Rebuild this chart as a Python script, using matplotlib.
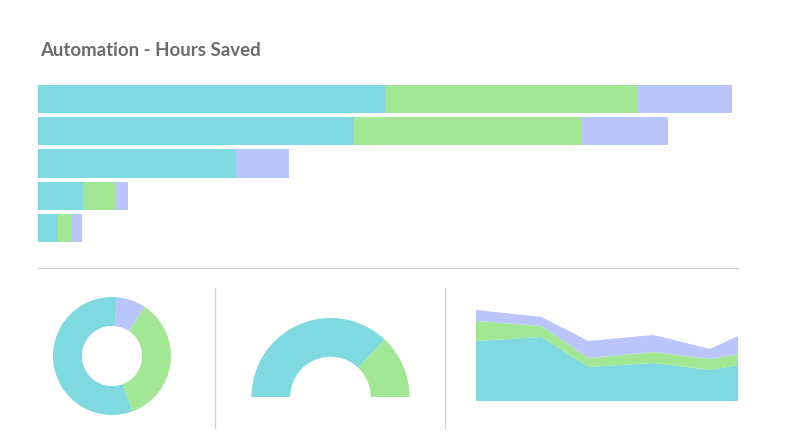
import matplotlib
matplotlib.use('Agg')
import matplotlib.pyplot as plt
from matplotlib.lines import Line2D

W, H = 790, 444

C_CYAN = '#7ed9e0'
C_GREEN = '#a2e794'
C_PURPLE = '#bac5fc'
C_LINE = '#d4d4d4'

# 横向堆叠条形
bar_cyan = [347, 316, 198, 45, 20]
bar_green = [252, 228, 0, 33, 14]
bar_purple = [95, 86, 53, 12, 10]

# 环形图
donut_vals = [8, 35, 57]          # purple, green, cyan
# 半环
gauge_vals = [74, 26]             # cyan, green

# 面积图
area_x = [0, 7, 12, 19, 25, 28]
area_cyan = [60, 64, 34, 38, 31, 36]
area_green = [20, 11, 9, 11, 11, 11]
area_purple = [11, 9, 17, 17, 10, 18]


def px_axes(fig, left, top, width, height):
    """按像素 (左上角坐标) 创建 axes"""
    return fig.add_axes([left / W, (H - top - height) / H, width / W, height / H])


fig = plt.figure(figsize=(W / 100, H / 100), dpi=100)
fig.patch.set_facecolor('white')

fig.text(40 / W, 1 - 51 / H, 'Automation - Hours Saved', fontsize=13.4,
         fontweight='bold', color='#6b6b6b', family=['Lato', 'DejaVu Sans'],
         va='center', ha='left')

# ── 条形图 ──
ax = px_axes(fig, 38, 83, 700, 161)
ys = range(len(bar_cyan))
left2 = [a + b for a, b in zip(bar_cyan, bar_green)]
ax.barh(ys, bar_cyan, height=0.87, color=C_CYAN)
ax.barh(ys, bar_green, left=bar_cyan, height=0.87, color=C_GREEN)
ax.barh(ys, bar_purple, left=left2, height=0.87, color=C_PURPLE)
ax.set_xlim(0, 700)
ax.set_ylim(4.5, -0.5)
ax.axis('off')

# 分隔线
fig.add_artist(Line2D([38 / W, 738 / W], [1 - 268 / H, 1 - 268 / H],
                      color=C_LINE, linewidth=1))
for xv in (215, 445):
    fig.add_artist(Line2D([xv / W, xv / W], [1 - 288 / H, 1 - 428 / H],
                          color=C_LINE, linewidth=1))

# ── 环形图 ──
ax2 = px_axes(fig, 53, 297, 118, 118)
ax2.pie(donut_vals, colors=[C_PURPLE, C_GREEN, C_CYAN], startangle=85,
        counterclock=False, radius=1, wedgeprops=dict(width=0.49, linewidth=0))
ax2.set_xlim(-1, 1)
ax2.set_ylim(-1, 1)
ax2.set_aspect('equal')
ax2.axis('off')

# ── 半环 ──
ax3 = px_axes(fig, 251.5, 318, 158, 79)
ax3.pie(gauge_vals + [sum(gauge_vals)], colors=[C_CYAN, C_GREEN, 'none'],
        startangle=180, counterclock=False, radius=1,
        wedgeprops=dict(width=0.49, linewidth=0))
ax3.set_xlim(-1, 1)
ax3.set_ylim(0, 1)
ax3.set_aspect('equal')
ax3.axis('off')

# ── 面积图 ──
ax4 = px_axes(fig, 476, 301, 262, 100)
ax4.stackplot(area_x, area_cyan, area_green, area_purple,
              colors=[C_CYAN, C_GREEN, C_PURPLE], linewidth=0)
ax4.set_xlim(area_x[0], area_x[-1])
ax4.set_ylim(0, 100)
ax4.axis('off')

fig.savefig('out.png', dpi=100)
